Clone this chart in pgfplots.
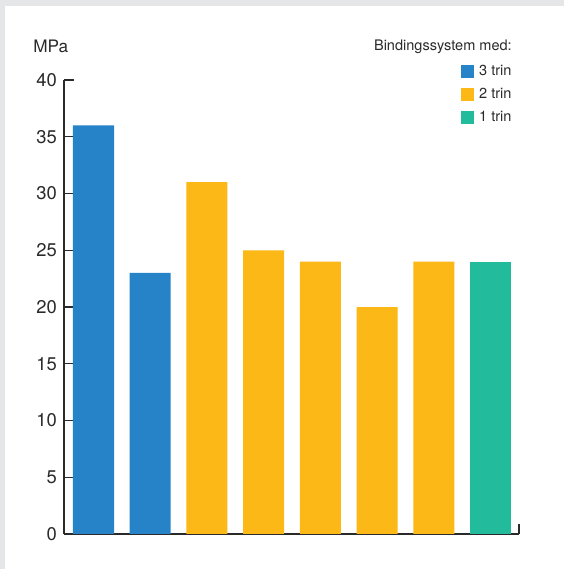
\documentclass[border=0pt]{standalone}
\usepackage{pgfplots}
\pgfplotsset{compat=1.18}
\usepackage{fontspec}
\setmainfont{TeX Gyre Heros}
\definecolor{bgGrey}{HTML}{E5E6E8}
\definecolor{cBlue}{HTML}{2783C8}
\definecolor{cYellow}{HTML}{FBB817}
\definecolor{cTeal}{HTML}{22BC9C}
\definecolor{txt}{HTML}{2A2A2A}
\begin{document}
\begin{tikzpicture}[x=1pt,y=1pt]
\fill[bgGrey] (0,0) rectangle (423,426.75);
\fill[white] (3.75,0) rectangle (423,422.25);
\node[anchor=base west, font=\fontsize{12.9}{14}\selectfont, text=txt, inner sep=0] at (24.75,387) {MPa};
\node[anchor=base east, font=\fontsize{10.9}{12}\selectfont, text=txt, inner sep=0] at (384,388.5) {Bindingssystem med:};
\begin{axis}[
  at={(48pt,26.25pt)}, anchor=south west,
  scale only axis, width=341.25pt, height=340.5pt,
  xmin=-0.52, xmax=7.5, ymin=0, ymax=40,
  axis x line=bottom, axis y line=left,
  axis line style={-, draw=txt, line width=0.9pt},
  xtick=\empty,
  extra x ticks={7.5}, extra x tick labels={},
  extra x tick style={major tick length=7.5pt, tick align=inside, tick style={draw=txt, line width=0.9pt}},
  ytick={0,5,...,40},
  tick align=inside, major tick length=7.5pt,
  tick style={draw=txt, line width=0.9pt},
  /pgf/number format/assume math mode=true,
  yticklabel style={font=\fontsize{13.8}{15}\selectfont, text=txt, xshift=-1.8pt},
  legend style={at={(0.8725,1.036)}, anchor=north west, draw=none, fill=none, inner sep=0pt,
    font=\fontsize{10.9}{12}\selectfont, text=txt, row sep=6pt,
    nodes={inner sep=1pt}},
  legend cell align=left,
  legend image code/.code={\fill[#1] (0pt,-4.875pt) rectangle (9.75pt,4.875pt); \path (12.5pt,0pt);},
  clip=false,
]
\addplot[ybar, bar shift=0pt, bar width=0.723, fill=cBlue, draw=none] coordinates {(0,36) (1,23)};
\addlegendentry{3 trin}
\addplot[ybar, bar shift=0pt, bar width=0.723, fill=cYellow, draw=none] coordinates {(2,31) (3,25) (4,24) (5,20) (6,24)};
\addlegendentry{2 trin}
\addplot[ybar, bar shift=0pt, bar width=0.723, fill=cTeal, draw=none] coordinates {(7,24)};
\addlegendentry{1 trin}
\end{axis}
\end{tikzpicture}
\end{document}
